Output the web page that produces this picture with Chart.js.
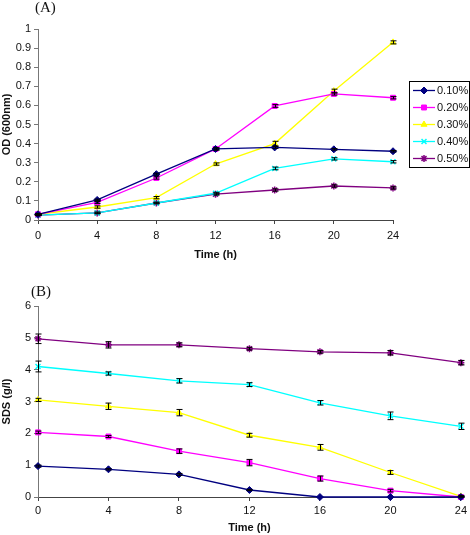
<!DOCTYPE html>
<html>
<head>
<meta charset="utf-8">
<script src="https://cdn.jsdelivr.net/npm/chart.js@4.4.1/dist/chart.umd.min.js"></script>
<style>
  body { margin: 0; background: #fff; width: 470px; height: 535px; position: relative; overflow: hidden; }
  canvas { position: absolute; left: 0; }
  .tag { position: absolute; font-family: "Liberation Serif", "Times New Roman", serif; font-size: 15px; line-height: 15px; color: #111; }
</style>
</head>
<body>
<canvas id="chartA" style="top:0" width="470" height="265"></canvas>
<canvas id="chartB" style="top:268px" width="470" height="267"></canvas>
<div class="tag" style="left:35px;top:0">(A)</div>
<div class="tag" style="left:31px;top:284px">(B)</div>
<script>
// sampling times and series names
const times = [0, 4, 8, 12, 16, 20, 24];
const seriesNames = ['0.10%', '0.20%', '0.30%', '0.40%', '0.50%'];

// (A) OD at 600 nm
const od010 = [0.03, 0.105, 0.24, 0.372, 0.38, 0.37, 0.36];
const od020 = [0.03, 0.092, 0.22, 0.372, 0.597, 0.66, 0.64];
const od030 = [0.03, 0.068, 0.117, 0.293, 0.40, 0.675, 0.93];
const od040 = [0.026, 0.037, 0.089, 0.14, 0.27, 0.32, 0.305];
const od050 = [0.026, 0.037, 0.089, 0.135, 0.157, 0.178, 0.168];
const odErr010 = [0.004, 0.004, 0.005, 0.005, 0.005, 0.004, 0.004];
const odErr020 = [0.004, 0.005, 0.006, 0.006, 0.007, 0.006, 0.006];
const odErr030 = [0.004, 0.006, 0.006, 0.006, 0.012, 0.01, 0.008];
const odErr040 = [0.003, 0.004, 0.004, 0.005, 0.007, 0.006, 0.006];
const odErr050 = [0.003, 0.004, 0.004, 0.005, 0.006, 0.006, 0.006];

// (B) residual SDS, g/l
const sds010 = [0.97, 0.87, 0.71, 0.22, 0, 0, 0];
const sds020 = [2.03, 1.9, 1.44, 1.08, 0.58, 0.2, 0];
const sds030 = [3.05, 2.85, 2.65, 1.94, 1.56, 0.77, 0.02];
const sds040 = [4.1, 3.88, 3.65, 3.53, 2.96, 2.55, 2.22];
const sds050 = [4.97, 4.78, 4.78, 4.66, 4.56, 4.53, 4.22];
const sdsErr010 = [0.03, 0.02, 0.03, 0.02, 0, 0, 0];
const sdsErr020 = [0.04, 0.03, 0.07, 0.1, 0.08, 0.04, 0.02];
const sdsErr030 = [0.05, 0.1, 0.1, 0.06, 0.09, 0.06, 0.03];
const sdsErr040 = [0.17, 0.05, 0.07, 0.06, 0.07, 0.12, 0.1];
const sdsErr050 = [0.15, 0.1, 0.06, 0.04, 0.04, 0.07, 0.07];

const colors = ['#000080', '#FF00FF', '#FFFF00', '#00FFFF', '#800080'];
const markers = ['rectRot', 'rect', 'triangle', 'crossRot', 'star'];

Chart.defaults.font.family = '"Liberation Sans", Arial, sans-serif';
Chart.defaults.color = '#111';

function makeDatasets(values, errors) {
  return values.map((vals, i) => ({
    label: seriesNames[i],
    data: vals.map((v, j) => ({ x: times[j], y: v })),
    errors: errors[i],
    borderColor: colors[i],
    backgroundColor: colors[i],
    pointBackgroundColor: colors[i],
    pointBorderColor: colors[i],
    borderWidth: 1.3,
    pointRadius: 3.5,
    pointBorderWidth: markers[i] === 'crossRot' || markers[i] === 'star' ? 1.5 : 1,
    pointStyle: markers[i],
    tension: 0,
    clip: false
  }));
}

// draws the +/- error caps on top of each point
const errorBars = {
  id: 'errorBars',
  afterDatasetsDraw(chart) {
    const ctx = chart.ctx;
    const yScale = chart.scales.y;
    ctx.save();
    ctx.strokeStyle = '#000';
    ctx.lineWidth = 1;
    chart.data.datasets.forEach((ds, i) => {
      const meta = chart.getDatasetMeta(i);
      (ds.errors || []).forEach((e, j) => {
        if (!e) return;
        const x = Math.round(meta.data[j].x) + 0.5;
        const v = ds.data[j].y;
        const top = yScale.getPixelForValue(v + e);
        const bot = yScale.getPixelForValue(Math.max(v - e, 0));
        ctx.beginPath();
        ctx.moveTo(x, top); ctx.lineTo(x, bot);
        ctx.moveTo(x - 3, top); ctx.lineTo(x + 3, top);
        ctx.moveTo(x - 3, bot); ctx.lineTo(x + 3, bot);
        ctx.stroke();
      });
    });
    ctx.restore();
  }
};

// excel-like boxed legend with line + marker samples
const boxLegend = {
  id: 'boxLegend',
  afterDraw(chart, args, opts) {
    if (!opts.show) return;
    const ctx = chart.ctx;
    ctx.save();
    ctx.strokeStyle = '#000';
    ctx.lineWidth = 1;
    ctx.strokeRect(opts.x + 0.5, opts.y + 0.5, opts.w, opts.h);
    ctx.font = '11px "Liberation Sans", Arial, sans-serif';
    ctx.textBaseline = 'middle';
    chart.data.datasets.forEach((ds, i) => {
      const cy = opts.y + 9.5 + i * opts.rowH;
      ctx.strokeStyle = ds.borderColor;
      ctx.lineWidth = ds.borderWidth;
      ctx.beginPath();
      ctx.moveTo(opts.x + 4, cy);
      ctx.lineTo(opts.x + 26, cy);
      ctx.stroke();
      ctx.fillStyle = ds.pointBackgroundColor;
      ctx.strokeStyle = ds.pointBorderColor;
      ctx.lineWidth = ds.pointBorderWidth;
      Chart.helpers.drawPoint(ctx, { pointStyle: ds.pointStyle, radius: ds.pointRadius, rotation: 0, borderWidth: ds.pointBorderWidth }, opts.x + 15, cy);
      ctx.fillStyle = '#111';
      ctx.fillText(ds.label, opts.x + 28, cy);
    });
    ctx.restore();
  }
};

function makeOptions(cfg) {
  return {
    responsive: false,
    animation: false,
    layout: { padding: { top: cfg.top, left: 0, right: cfg.right, bottom: 0 } },
    plugins: {
      legend: { display: false },
      tooltip: { enabled: false },
      boxLegend: cfg.legend
    },
    scales: {
      x: {
        type: 'linear',
        min: 0, max: 24,
        afterFit: s => { s.height = cfg.xHeight; },
        ticks: { stepSize: 4, padding: cfg.xPad, font: { size: 11 }, color: '#111' },
        grid: { drawOnChartArea: false, tickLength: 4, color: '#444' },
        border: { color: '#444' },
        title: { display: true, text: 'Time (h)', font: { size: 11, weight: 'bold' }, color: '#111', padding: { top: 0, bottom: cfg.titlePad } }
      },
      y: {
        min: cfg.yMin, max: cfg.yMax,
        afterFit: s => { s.width = 38; },
        ticks: { stepSize: cfg.yStep, padding: 3, font: { size: 11 }, color: '#111', callback: v => String(+v.toFixed(1)) },
        grid: { drawOnChartArea: false, tickLength: 4, color: '#777' },
        border: { color: '#777' },
        title: { display: true, text: cfg.yTitle, font: { size: 11, weight: 'bold' }, color: '#111', padding: 0 }
      }
    }
  };
}

new Chart(document.getElementById('chartA'), {
  type: 'line',
  data: { datasets: makeDatasets([od010, od020, od030, od040, od050], [odErr010, odErr020, odErr030, odErr040, odErr050]) },
  options: makeOptions({
    top: 29, right: 77, xHeight: 45, xPad: 5, titlePad: 3,
    yMin: 0, yMax: 1, yStep: 0.1, yTitle: 'OD (600nm)',
    legend: { show: true, x: 409, y: 81, w: 60, h: 86, rowH: 17 }
  }),
  plugins: [errorBars, boxLegend]
});

new Chart(document.getElementById('chartB'), {
  type: 'line',
  data: { datasets: makeDatasets([sds010, sds020, sds030, sds040, sds050], [sdsErr010, sdsErr020, sdsErr030, sdsErr040, sdsErr050]) },
  options: makeOptions({
    top: 38, right: 8, xHeight: 38, xPad: 3, titlePad: 0,
    yMin: 0, yMax: 6, yStep: 1, yTitle: 'SDS (g/l)',
    legend: { show: false }
  }),
  plugins: [errorBars, boxLegend]
});
</script>
</body>
</html>
